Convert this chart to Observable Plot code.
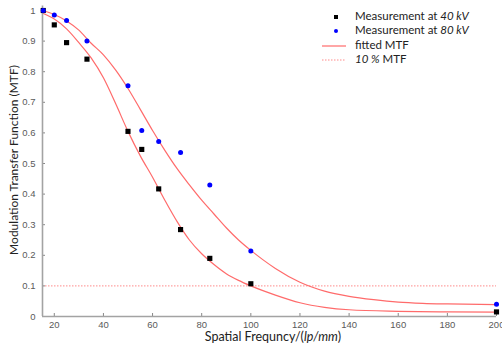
<!DOCTYPE html>
<html><head><meta charset="utf-8">
<script src="https://cdn.jsdelivr.net/npm/d3@7"></script>
<script src="https://cdn.jsdelivr.net/npm/@observablehq/plot@0.6"></script>
<style>body{margin:0;background:#fff} svg{display:block}</style>
</head><body><div id="chart"></div>
<script>
// Measured points (spatial frequency in lp/mm)
const freq = [15.5, 20, 25, 33.3, 50, 55.6, 62.5, 71.4, 83.3, 100, 200];
const mtf40 = [1.0, 0.953, 0.895, 0.841, 0.605, 0.546, 0.417, 0.284, 0.19, 0.107, 0.015];
const mtf80 = [1.0, 0.985, 0.967, 0.9, 0.754, 0.608, 0.572, 0.536, 0.43, 0.214, 0.04];

// Fitted curves
const fitFreq40 = [15.5, 20, 25, 30, 35, 40, 45, 50, 55, 60, 65, 70, 75, 80, 85, 90, 95, 100, 110, 120, 130, 140, 160, 180, 200];
const fit40 = [0.99, 0.972, 0.94, 0.895, 0.845, 0.78, 0.695, 0.605, 0.525, 0.455, 0.38, 0.31, 0.25, 0.205, 0.17, 0.14, 0.118, 0.1, 0.07, 0.045, 0.03, 0.022, 0.017, 0.015, 0.014];
const fitFreq80 = [15.5, 20, 25, 30, 35, 40, 45, 50, 55, 60, 65, 70, 75, 80, 85, 90, 95, 100, 105, 110, 120, 130, 140, 150, 160, 170, 180, 200];
const fit80 = [1.0, 0.987, 0.966, 0.936, 0.893, 0.855, 0.805, 0.745, 0.677, 0.608, 0.543, 0.483, 0.43, 0.38, 0.335, 0.29, 0.25, 0.216, 0.185, 0.157, 0.112, 0.083, 0.066, 0.055, 0.047, 0.043, 0.041, 0.039];

const threshold = [0.1];
const xTicks = [20, 40, 60, 80, 100, 120, 140, 160, 180, 200];
const yTicks = [0, 0.1, 0.2, 0.3, 0.4, 0.5, 0.6, 0.7, 0.8, 0.9, 1];
const yTickLabels = ["0", "0.1", "0.2", "0.3", "0.4", "0.5", "0.6", "0.7", "0.8", "0.9", "1"];
const xDomain = [15.2, 200];

const yTitle = "Modulation Transfer Function (MTF)";
const legendItems = ["Measurement at ", "40 kV", "Measurement at ", "80 kV", "fitted MTF", "10 %", " MTF"];

const rows40 = freq.map((f, i) => ({x: f, y: mtf40[i]}));
const rows80 = freq.map((f, i) => ({x: f, y: mtf80[i]}));
const fitRows40 = fitFreq40.map((f, i) => ({x: f, y: fit40[i]}));
const fitRows80 = fitFreq80.map((f, i) => ({x: f, y: fit80[i]}));

const red = "#ff6b6b";
const axisGray = "#a3a3a3";

const plot = Plot.plot({
  width: 502, height: 351,
  marginLeft: 42, marginRight: 6, marginTop: 10, marginBottom: 35,
  style: {fontFamily: "'Liberation Sans', Arial, sans-serif", fontSize: "9.5px", color: "#5a5a5a", background: "#fff", overflow: "visible"},
  x: {domain: xDomain, label: null},
  y: {domain: [0, 1], label: null},
  marks: [
    Plot.ruleY(threshold, {stroke: "#ff8a8a", strokeDasharray: "1.5,1.5", strokeWidth: 1}),
    Plot.line(fitRows40, {x: "x", y: "y", curve: "monotone-x", stroke: red, strokeWidth: 1.2}),
    Plot.line(fitRows80, {x: "x", y: "y", curve: "monotone-x", stroke: red, strokeWidth: 1.2}),
    Plot.axisX({ticks: xTicks, tickSize: 3, insetBottom: 3, tickPadding: 5, stroke: "#888"}),
    Plot.axisY({ticks: yTicks, tickFormat: d => yTickLabels[yTicks.indexOf(d)], tickSize: 3, insetLeft: 3, tickPadding: 7, stroke: "#888"}),
    Plot.ruleX([xDomain[0]], {y1: 0, y2: 1.015, stroke: axisGray, strokeWidth: 1.6}),
    Plot.ruleY([0], {stroke: axisGray, strokeWidth: 1.6}),
    Plot.dot(rows40, {x: "x", y: "y", symbol: "square", r: 2.9, fill: "#000"}),
    Plot.dot(rows80, {x: "x", y: "y", r: 2.5, fill: "#0000ff"})
  ]
});
document.getElementById("chart").appendChild(plot);

const svg = d3.select(plot);
const titleFont = "Lato, 'Open Sans', sans-serif";

// Y title
svg.append("text")
  .attr("transform", "translate(15,160) rotate(-90)")
  .attr("text-anchor", "middle").attr("dominant-baseline", "middle")
  .attr("font-family", titleFont).attr("font-size", "12px").attr("fill", "#222")
  .text(yTitle);

// X title with italic unit
const xt = svg.append("text")
  .attr("x", 273).attr("y", 338)
  .attr("text-anchor", "middle").attr("dominant-baseline", "middle")
  .attr("font-family", titleFont).attr("font-size", "12.5px").attr("fill", "#222");
xt.append("tspan").text("Spatial Frequncy/(");
xt.append("tspan").attr("font-style", "italic").text("lp/mm");
xt.append("tspan").text(")");

// Legend
const lg = svg.append("g").attr("font-family", titleFont).attr("font-size", "11.5px").attr("fill", "#222").attr("text-anchor", "start");
const rowsY = [17, 31, 46, 60];
const mx = 336, tx = 355;
lg.append("rect").attr("x", mx - 2).attr("y", rowsY[0] - 2).attr("width", 4).attr("height", 4).attr("fill", "#000");
lg.append("circle").attr("cx", mx).attr("cy", rowsY[1]).attr("r", 2).attr("fill", "#0000ff");
lg.append("line").attr("x1", 322).attr("x2", 346).attr("y1", rowsY[2]).attr("y2", rowsY[2]).attr("stroke", red).attr("stroke-width", 1.2);
lg.append("line").attr("x1", 322).attr("x2", 346).attr("y1", rowsY[3]).attr("y2", rowsY[3]).attr("stroke", "#ff8a8a").attr("stroke-width", 1).attr("stroke-dasharray", "1.5,1.5");
const t1 = lg.append("text").attr("x", tx).attr("y", rowsY[0]).attr("dominant-baseline", "middle");
t1.append("tspan").text(legendItems[0]); t1.append("tspan").attr("font-style", "italic").text(legendItems[1]);
const t2 = lg.append("text").attr("x", tx).attr("y", rowsY[1]).attr("dominant-baseline", "middle");
t2.append("tspan").text(legendItems[2]); t2.append("tspan").attr("font-style", "italic").text(legendItems[3]);
lg.append("text").attr("x", tx).attr("y", rowsY[2]).attr("dominant-baseline", "middle").text(legendItems[4]);
const t4 = lg.append("text").attr("x", tx).attr("y", rowsY[3]).attr("dominant-baseline", "middle");
t4.append("tspan").attr("font-style", "italic").text(legendItems[5]); t4.append("tspan").text(legendItems[6]);
</script>
</body></html>
